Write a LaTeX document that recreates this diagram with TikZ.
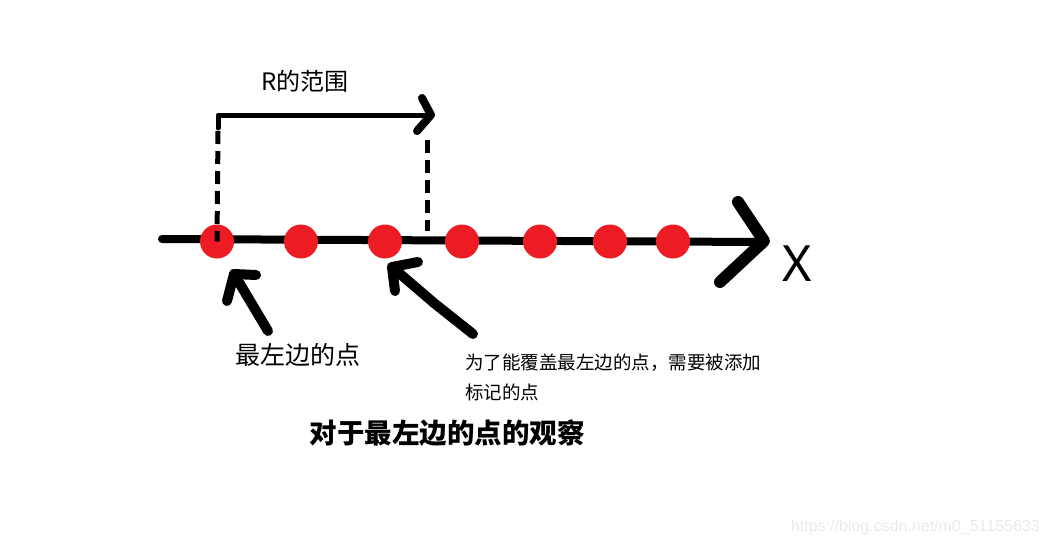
\documentclass[tikz,border=0pt]{standalone}
\usepackage{fontspec}
\setmainfont{Noto Sans}
\newfontfamily\cjk{Noto Sans CJK SC}
\newfontfamily\wm{Liberation Sans}
\definecolor{dotred}{HTML}{ED1C24}
\definecolor{wmgrey}{HTML}{EBEBEB}
\begin{document}
\begin{tikzpicture}[x=1pt,y=-1pt,
  stroke/.style={line width=#1, line cap=round, line join=round, black},
  dotnode/.style={circle, fill=dotred, minimum size=34pt, inner sep=0pt},
  dashline/.style={line width=5pt, dash pattern=on 13pt off 7pt},
  lbl/.style={inner sep=0pt, text=black}]
\useasboundingbox[fill=white] (0,0) rectangle (1051,546);

% axis
\coordinate (axs) at (162,239);
\coordinate (axe) at (763,242);
\draw[stroke=8pt] (axs) -- (axe);
\coordinate (ah1) at (738,202);
\coordinate (ah2) at (720,282);
\draw[stroke=12pt] (ah1) -- (764,241) -- (ah2);

% dots
\foreach \n/\x in {1/217,2/301,3/385,4/462,5/540,6/610,7/673}{
  \node[dotnode] (d\n) at (\x,241.5) {};
}

% range bracket
\coordinate (rtl) at (218,115);
\coordinate (rtr) at (428,115);
\draw[stroke=5pt] (218,128) -- (rtl) -- (rtr);
\draw[dashline] (218,131) -- (d1.center);
\draw[dashline] (427,140) -- (427,231);
\draw[stroke=8pt] (422,98) -- (431,115) -- (417,131);

\node[lbl, font={\cjk\fontsize{24}{28}\selectfont}] (rlab) at (305,81) {R的范围};
\node[lbl, font={\fontsize{50}{56}\selectfont}] (xlab) at (797,264) {X};

% arrow 1
\coordinate (a1t) at (268,331);
\coordinate (a1h) at (234,274);
\draw[stroke=10pt] (a1t) -- (a1h);
\draw[stroke=10pt] (256,275) -- (a1h) -- (227,301);

% arrow 2
\coordinate (a2t) at (473,334);
\coordinate (a2h) at (392,267);
\draw[stroke=10pt] (a2t) -- (434,303) -- (a2h);
\draw[stroke=10pt] (418,262) -- (a2h) -- (395,291);

\node[lbl, font={\cjk\fontsize{25}{28}\selectfont}] (left) at (298,355) {最左边的点};
\node[lbl, anchor=west, align=left, font={\cjk\fontsize{18.5}{30}\selectfont}] (cover) at (465,377)
  {为了能覆盖最左边的点，需要被添加\\标记的点};
\node[lbl, font={\cjk\bfseries\fontsize{27.5}{30}\selectfont}] (title) at (447,433) {对于最左边的点的观察};
\node[lbl, anchor=east, text=wmgrey, font={\wm\fontsize{16}{18}\selectfont}] (wmark) at (1040,527) {https://blog.csdn.net/m0\_51155633};
\end{tikzpicture}
\end{document}
